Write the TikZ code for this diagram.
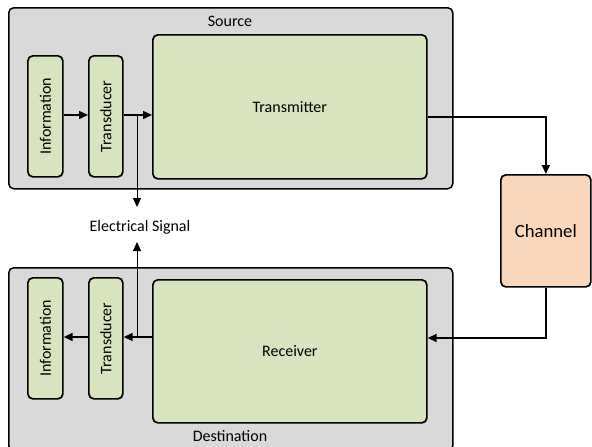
\documentclass[tikz,border=0pt]{standalone}
\usepackage{fontspec}
\setmainfont{Carlito}
\usetikzlibrary{arrows.meta}
\definecolor{grayfill}{HTML}{D9D9D9}
\definecolor{greenfill}{HTML}{D7E4BD}
\definecolor{chanfill}{HTML}{FAD7BA}
\begin{document}
\begin{tikzpicture}[x=1pt,y=-1pt,
  outerbox/.style={draw, line width=1.5pt, rounded corners=5pt, fill=grayfill, anchor=north west, inner sep=0pt},
  inbox/.style={draw, line width=1.7pt, rounded corners=5pt, fill=greenfill, anchor=north west, inner sep=0pt},
  chanbox/.style={draw, line width=1.7pt, rounded corners=5pt, fill=chanfill, anchor=north west, inner sep=0pt},
  conn/.style={line width=1.6pt, -{Triangle[length=9pt,width=8pt]}},
  thinconn/.style={line width=1pt, -{Triangle[length=9pt,width=8pt]}},
  lbl/.style={font=\fontsize{16}{19}\selectfont, inner sep=0pt}
]
\useasboundingbox (0,0) rectangle (592,447);
% Source
\node[outerbox, minimum width=444, minimum height=181] (src) at (8,7) {};
\node[lbl] (srclbl) at (230,21) {Source};
\node[inbox, minimum width=35, minimum height=121] (info1) at (27,55) {};
\node[lbl] at (info1.center) {\rotatebox{90}{Information}};
\node[inbox, minimum width=34, minimum height=121] (trans1) at (88,55) {};
\node[lbl] at (trans1.center) {\rotatebox{90}{Transducer}};
\node[inbox, minimum width=274, minimum height=144] (tx) at (152,34) {};
\node[lbl] at (tx.center) {Transmitter};
% Destination
\node[outerbox, minimum width=444, minimum height=183] (dst) at (8,267) {};
\node[lbl] (dstlbl) at (230,436) {Destination};
\node[inbox, minimum width=35, minimum height=121] (info2) at (27,277) {};
\node[lbl] at (info2.center) {\rotatebox{90}{Information}};
\node[inbox, minimum width=34, minimum height=121] (trans2) at (88,277) {};
\node[lbl] at (trans2.center) {\rotatebox{90}{Transducer}};
\node[inbox, minimum width=274, minimum height=143] (rx) at (152,279) {};
\node[lbl] at (rx.center) {Receiver};
% Channel
\node[chanbox, minimum width=90, minimum height=112] (ch) at (500,174) {};
\node[lbl, font=\fontsize{18.7}{22}\selectfont] at (ch.center) {Channel};
% Electrical signal
\node[lbl] (sig) at (140,227) {Electrical Signal};
% connectors
\draw[conn] (info1.east |- 0,115) -- (trans1.west |- 0,115);
\draw[conn] (trans1.east |- 0,115) -- (tx.west |- 0,115);
\coordinate (j1) at (137,115);
\coordinate (s1) at (137,207);
\draw[thinconn] (j1) -- (s1);
\draw[conn] (tx.east |- 0,117) -| (ch.north);
\draw[conn] (ch.south) |- (rx.east |- 0,338);
\draw[conn] (rx.west |- 0,337) -- (trans2.east |- 0,337);
\draw[conn] (trans2.west |- 0,337) -- (info2.east |- 0,337);
\coordinate (j2) at (137,337);
\coordinate (s2) at (137,242);
\draw[thinconn] (j2) -- (s2);
\end{tikzpicture}
\end{document}
